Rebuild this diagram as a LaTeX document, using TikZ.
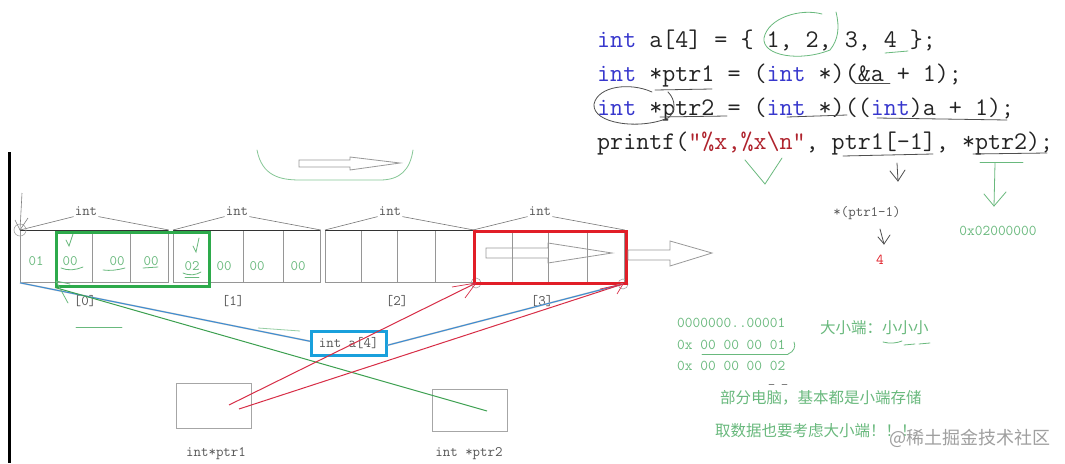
\documentclass[tikz,border=0pt]{standalone}
\usepackage{fontspec}
\newfontfamily\cjk{Noto Sans CJK SC}
\definecolor{kw}{RGB}{55,55,205}
\definecolor{strc}{RGB}{175,35,45}
\definecolor{codec}{RGB}{35,35,35}
\definecolor{gtxt}{RGB}{105,185,125}
\definecolor{gbox}{RGB}{45,170,75}
\definecolor{gline}{RGB}{60,160,80}
\definecolor{rbox}{RGB}{225,30,40}
\definecolor{rline}{RGB}{215,45,70}
\definecolor{bbox}{RGB}{25,160,220}
\definecolor{bline}{RGB}{55,140,215}
\definecolor{dtxt}{RGB}{85,85,85}
\definecolor{cellc}{RGB}{150,150,150}
\begin{document}
\begin{tikzpicture}[x=1pt,y=-1pt,
  code/.style={anchor=base west,inner sep=0,text=codec,font=\ttfamily\fontsize{25.3}{28}\selectfont},
  lab/.style={inner sep=1pt,text=dtxt,font=\ttfamily\fontsize{14.5}{16}\selectfont},
  val/.style={inner sep=1pt,text=gtxt,font=\ttfamily\fontsize{14.5}{16}\selectfont},
  gnote/.style={inner sep=1pt,text=gtxt,font=\ttfamily\fontsize{15}{17}\selectfont},
  cnote/.style={inner sep=1pt,text=gtxt,font=\cjk\fontsize{15.5}{18}\selectfont},
  cellbox/.style={draw=cellc,line width=0.8pt,inner sep=0,minimum height=52pt,anchor=north west},
  divider/.style={draw=cellc,line width=0.8pt},
  brace/.style={draw=dtxt!80,line width=0.6pt},
  hollow/.style={draw=gray!80,line width=0.8pt,fill=white},
  gstroke/.style={draw=gtxt,line width=0.8pt,line cap=round},
  dstroke/.style={draw=codec!80,line width=0.8pt,line cap=round},
  ptrbox/.style={draw=gray!70,line width=1.2pt,inner sep=0,anchor=north west},
  smallcirc/.style={draw=gray!70,line width=0.6pt,circle,inner sep=0,minimum size=10pt}
]
\useasboundingbox (0,0) rectangle (1065,463);
\fill[white] (0,0) rectangle (1065,463);

% left black bar
\draw[line width=3pt,black] (9,152) -- (9,463);

% ---------------- code ----------------
\node[code] (l1) at (597,47) {\textcolor{kw}{int} a[4] = \{ 1, 2, 3, 4 \};};
\node[code] (l2) at (597,81) {\textcolor{kw}{int} *ptr1 = (\textcolor{kw}{int} *)(\&a + 1);};
\node[code] (l3) at (597,115) {\textcolor{kw}{int} *ptr2 = (\textcolor{kw}{int} *)((\textcolor{kw}{int})a + 1);};
\node[code] (l4) at (597,149) {printf(\textcolor{strc}{"\%x,\%x\textbackslash n"}, ptr1[-1], *ptr2);};

% hand annotations on code
\draw[gstroke] (822,14) .. controls (800,8) and (768,18) .. (764,38) .. controls (762,56) and (800,62) .. (830,50) .. controls (838,40) and (840,28) .. (836,12);
\draw[gstroke] (885,53) -- (908,51);
\draw[dstroke] (855,83) -- (890,83);
\draw[dstroke] (652,92) .. controls (630,82) and (598,86) .. (594,104) .. controls (592,124) and (640,130) .. (668,118) .. controls (676,112) and (676,100) .. (668,92);
\draw[dstroke] (655,90) -- (712,89);
\draw[dstroke] (660,117) -- (727,116);
\draw[dstroke] (787,117) -- (847,115);
\draw[dstroke] (877,118) -- (1007,120);
\draw[dstroke] (843,156) -- (933,154);
\draw[dstroke] (973,154) -- (1047,153);
\draw[gstroke] (980,162) -- (1023,162);

% marks under code
\draw[gstroke] (745,160) -- (765,184) -- (782,158);
\coordinate (dA) at (897,163);
\coordinate (dB) at (898,181);
\draw[dstroke] (dA) -- (dB);
\draw[dstroke] (890,171) -- (dB) -- (905,170);
\coordinate (gA) at (995,163);
\coordinate (gB) at (994,206);
\draw[gstroke] (gA) -- (gB);
\draw[gstroke] (984,194) -- (gB) -- (1006,192);

% results
\node[lab] (deref) at (867,213) {*(ptr1-1)};
\node[inner sep=1pt,text=rbox,font=\ttfamily\fontsize{15}{17}\selectfont] (four) at (880,260) {4};
\draw[dstroke] (880,229) -- (884,244);
\draw[dstroke] (878,237) -- (884,244) -- (890,235);
\node[gnote] (hexres) at (998,231) {0x02000000};

% ---------------- top arrow and green curve ----------------
\draw[gstroke,draw=gtxt!80] (257,150) .. controls (262,176) and (280,180) .. (300,180) -- (380,180) .. controls (400,180) and (410,170) .. (413,150);
\draw[hollow] (299,160) -- (350,160) -- (350,157) -- (400,163) -- (350,170) -- (350,167) -- (299,167) -- cycle;

% ---------------- memory cells ----------------
\node[cellbox,minimum width=148pt] (g0) at (20,230) {};
\node[cellbox,minimum width=147pt] (g1) at (173,230) {};
\node[cellbox,minimum width=148pt] (g2) at (325,230) {};
\node[cellbox,minimum width=151pt] (g3) at (473,230) {};
\foreach \x in {55,92,130,208,243,283,361,397,435,512,548,587}
  \draw[divider] (\x,230) -- (\x,282);
\draw[line width=1pt,black!80] (20,230) -- (168,230);
\draw[line width=1pt,black!80] (173,230) -- (320,230);
\draw[line width=1pt,black!80] (325,230) -- (473,230);

% int labels with lines
\node[lab] (i0) at (86,211) {int};
\node[lab] (i1) at (237,211) {int};
\node[lab] (i2) at (390,211) {int};
\node[lab] (i3) at (540,211) {int};
\draw[brace] (g0.north west) -- (i0.south west);
\draw[brace] (i0.south east) -- (g0.north east);
\draw[brace] (g1.north west) -- (i1.south west);
\draw[brace] (i1.south east) -- (g1.north east);
\draw[brace] (g2.north west) -- (i2.south west);
\draw[brace] (i2.south east) -- (g2.north east);
\draw[brace] (g3.north west) -- (i3.south west);
\draw[brace] (i3.south east) -- (g3.north east);

% index labels
\node[lab] (x0) at (85,301) {[0]};
\node[lab] (x1) at (233,301) {[1]};
\node[lab] (x2) at (397,301) {[2]};
\node[lab] (x3) at (542,301) {[3]};

% values
\node[val] (v00) at (36,261) {01};
\node[val] (v01) at (70,261) {00};
\node[val] (v02) at (117,261) {00};
\node[val] (v03) at (151,261) {00};
\node[val] (v10) at (192,266) {02};
\node[val] (v11) at (224,266) {00};
\node[val] (v12) at (257,266) {00};
\node[val] (v13) at (298,266) {00};
% check marks and underlines
\draw[gstroke] (66,240) -- (69,246) -- (73,234);
\draw[gstroke] (193,246) -- (196,252) -- (199,238);
\draw[gstroke] (61,268) .. controls (68,271) and (76,270) .. (83,267);
\draw[gstroke] (103,270) .. controls (110,271) and (118,270) .. (125,268);
\draw[gstroke] (143,268) -- (158,267);
\draw[gstroke] (183,273) .. controls (190,276) and (196,275) .. (201,272);
\draw[gstroke] (185,277) -- (199,277);

% top-left pointer arrow and circles
\node[smallcirc,minimum size=12pt] (c0) at (20,230) {};
\coordinate (tA) at (22,193);
\draw[line width=0.6pt,gray] (tA) -- (c0.center);
\draw[line width=0.6pt,gray] (15,220) -- (c0.center) -- (28,218);
\node[smallcirc] (c1) at (476,283) {};
\node[smallcirc] (c2) at (623,284) {};

% green and red boxes
\node[draw=gbox,line width=2.5pt,inner sep=0,minimum width=153pt,minimum height=54pt,anchor=north west] (gsel) at (55,231) {};
\node[draw=rbox,line width=3pt,inner sep=0,minimum width=152pt,minimum height=52pt,anchor=north west] (rsel) at (473,230) {};

% arrows inside / beside red box
\draw[hollow,fill=none] (486,248) -- (548,248) -- (548,243) -- (612,253) -- (548,263) -- (548,258) -- (486,258) -- cycle;
\draw[hollow] (628,250) -- (670,250) -- (670,241) -- (712,253) -- (670,266) -- (670,260) -- (628,260) -- cycle;

% ---------------- int a[4] box and pointer boxes ----------------
\node[draw=bbox,line width=2.5pt,inner sep=0,minimum width=75pt,minimum height=24pt,anchor=north west,text=dtxt,font=\ttfamily\fontsize{14.5}{16}\selectfont] (arr) at (310,330) {int a[4]};
\node[ptrbox,minimum width=75pt,minimum height=45pt] (p1) at (176,383) {};
\node[ptrbox,minimum width=75pt,minimum height=42pt] (p2) at (432,389) {};
\node[lab] (p1l) at (216,454) {int*ptr1};
\node[lab] (p2l) at (469,454) {int *ptr2};

% connectors
\coordinate (p1a) at (229,405);
\coordinate (p1b) at (239,409);
\coordinate (p2a) at (487,411);
\draw[gray!50,line width=1.6pt] (g0.south west) -- ([yshift=2pt]arr.west);
\draw[bline,line width=0.9pt] (g0.south west) -- ([yshift=2pt]arr.west);
\draw[gray!50,line width=1.6pt] ([yshift=-2pt]arr.east) -- (c2.center);
\draw[bline,line width=0.9pt] ([yshift=-2pt]arr.east) -- (c2.center);
\draw[gtxt!70,line width=0.8pt] (258,328) -- (300,331);
\draw[gstroke] (76,327) -- (122,327);
\draw[gline,line width=1pt] (gsel.south west) -- (p2a);
\draw[gstroke] (56,281) -- (68,303);
\draw[gstroke] (56,281) -- (70,284);
\draw[rline,line width=1pt] (p1a) -- (c1.center);
\draw[rline,line width=1pt] (p1b) -- (c2.center);
\draw[rline,line width=0.7pt] (452,287) -- (c1.center) -- (465,298);
\draw[rline,line width=0.7pt] (600,289) -- (c2.center) -- (617,294);

% ---------------- endianness notes ----------------
\node[gnote,anchor=west] (h1) at (676,323) {0000000..00001};
\node[gnote,anchor=west] (h2) at (676,345) {0x 00 00 00 01};
\node[gnote,anchor=west] (h3) at (676,366) {0x 00 00 00 02};
\draw[gstroke] (702,354) -- (788,354);
\draw[gstroke] (788,354) .. controls (794,352) and (796,346) .. (794,342);
\node[cnote,anchor=west] (end1) at (819,328) {大小端：小小小};
\draw[gstroke] (883,342) .. controls (890,344) and (897,343) .. (902,341);
\draw[gstroke] (904,345) -- (915,344);
\draw[gstroke] (919,344) -- (930,343);
\draw[dstroke,draw=gray] (769,384) -- (774,384);
\draw[dstroke,draw=gray] (782,384) -- (787,384);
\node[cnote,anchor=west] (end2) at (719,398) {部分电脑，基本都是小端存储};
\node[cnote,anchor=west] (end3) at (714,431) {取数据也要考虑大小端！！！};
\node[inner sep=0,anchor=west,text=gray!75,font=\cjk\fontsize{18}{20}\selectfont] (wm) at (889,438) {@稀土掘金技术社区};
\end{tikzpicture}
\end{document}
